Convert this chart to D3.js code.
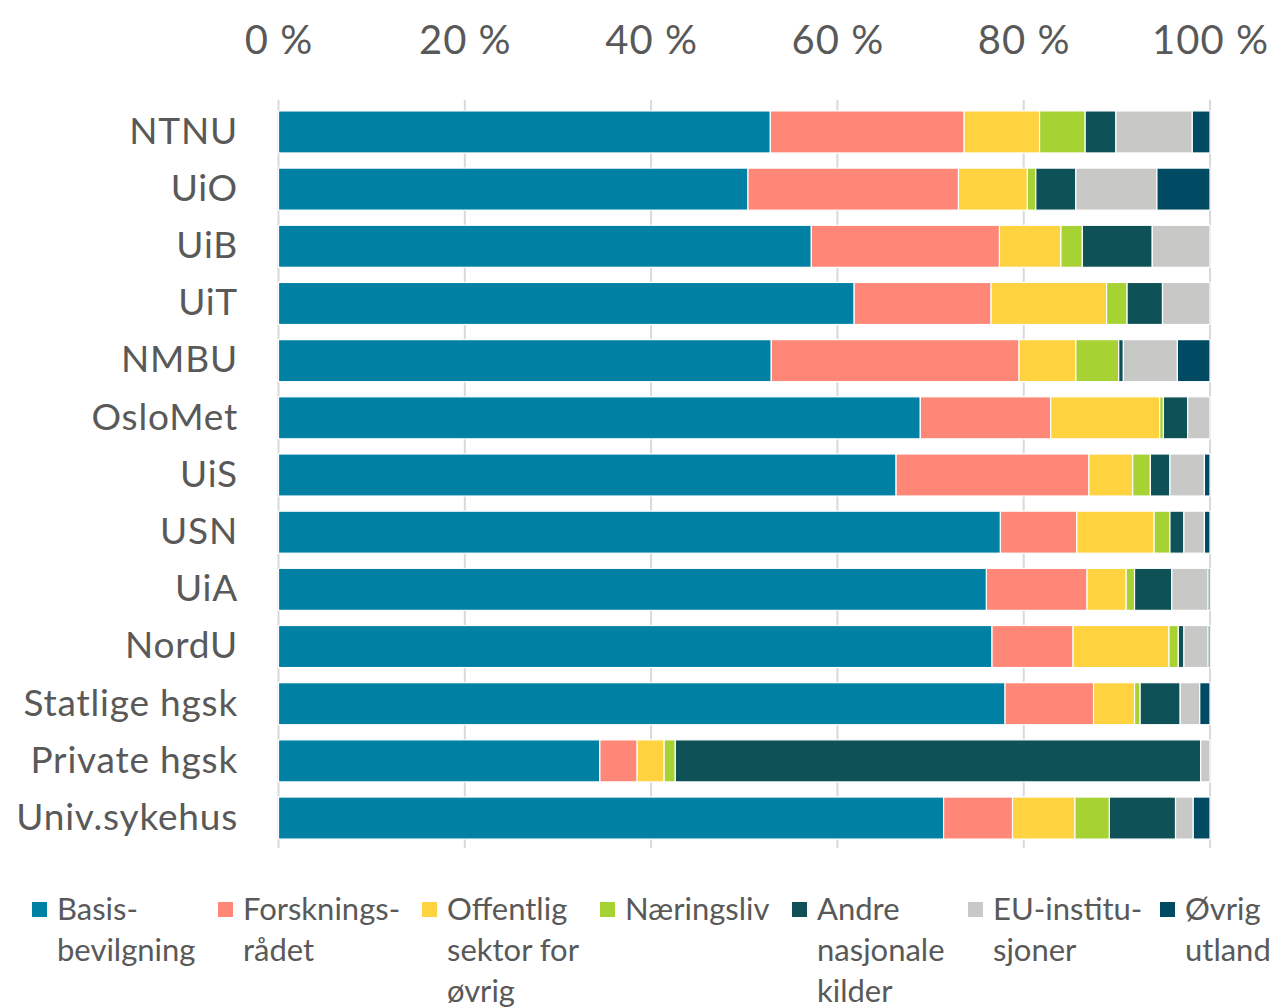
<!DOCTYPE html>
<html><head><meta charset="utf-8">
<script src="https://cdn.jsdelivr.net/npm/d3@7"></script>
<style>body{margin:0;background:#fff}svg{display:block}</style>
</head><body>
<script>
const categories = ["NTNU","UiO","UiB","UiT","NMBU","OsloMet","UiS","USN","UiA","NordU","Statlige hgsk","Private hgsk","Univ.sykehus"];
const seriesNames = ["Basis-bevilgning","Forsknings-rådet","Offentlig sektor for øvrig","Næringsliv","Andre nasjonale kilder","EU-institu-sjoner","Øvrig utland"];
const legendLines = [["Basis-","bevilgning"],["Forsknings-","rådet"],["Offentlig","sektor for","øvrig"],["Næringsliv"],["Andre","nasjonale","kilder"],["EU-institu-","sjoner"],["Øvrig","utland"]];
const basis      = [52.8,50.4,57.2,61.8,52.9,68.9,66.3,77.5,76.0,76.6,78.0,34.5,71.4];
const forskning  = [20.8,22.6,20.2,14.7,26.6,14.0,20.7, 8.2,10.8, 8.7, 9.5, 4.0, 7.4];
const offentlig  = [ 8.1, 7.4, 6.6,12.4, 6.1,11.7, 4.7, 8.3, 4.2,10.3, 4.4, 2.9, 6.7];
const naering    = [ 4.9, 0.9, 2.3, 2.2, 4.6, 0.4, 1.9, 1.7, 0.9, 1.0, 0.6, 1.2, 3.7];
const andre      = [ 3.3, 4.3, 7.5, 3.8, 0.5, 2.6, 2.1, 1.5, 4.0, 0.6, 4.3,56.4, 7.1];
const eu         = [ 8.2, 8.7, 6.2, 5.1, 5.8, 2.4, 3.7, 2.2, 3.9, 2.6, 2.1, 1.0, 1.9];
const ovrig      = [ 1.9, 5.7, 0.0, 0.0, 3.5, 0.0, 0.6, 0.6, 0.2, 0.2, 1.1, 0.0, 1.8];
const tickValues = [0,20,40,60,80,100];
const tickLabels = ["0 %","20 %","40 %","60 %","80 %","100 %"];
const colors = ["#0080A3","#FF8777","#FFD240","#A6D233","#0E5157","#C8C9C6","#004B63"];

const series = [basis,forskning,offentlig,naering,andre,eu,ovrig];
const keys = seriesNames;
const rows = categories.map((c,i)=>{const o={cat:c}; keys.forEach((k,j)=>o[k]=series[j][i]); return o;});
const stack = d3.stack().keys(keys)(rows);

const W=1278,H=1008;
const svg=d3.select("body").append("svg").attr("width",W).attr("height",H);
const font="Lato, 'Open Sans', sans-serif";
const x=d3.scaleLinear().domain([0,100]).range([278.5,1210]);
const y=d3.scaleBand().domain(categories).range([103.5,846.5]).paddingInner(0.265).paddingOuter(0.13);

// gridlines
svg.append("g").selectAll("line").data(tickValues).join("line")
  .attr("x1",d=>x(d)).attr("x2",d=>x(d)).attr("y1",100).attr("y2",848)
  .attr("stroke","#D9D9D9").attr("stroke-width",2);

// bars
svg.append("g").selectAll("g").data(stack).join("g").attr("fill",(d,i)=>colors[i])
  .selectAll("rect").data(d=>d).join("rect")
  .attr("x",d=>x(d[0])).attr("width",d=>Math.max(0,x(d[1])-x(d[0])))
  .attr("y",d=>y(d.data.cat)).attr("height",y.bandwidth())
  .attr("stroke","#fff").attr("stroke-width",1.2);

// top axis
const ax=d3.axisTop(x).tickValues(tickValues).tickFormat((d,i)=>tickLabels[i]).tickSize(0).tickPadding(0);
const gx=svg.append("g").attr("transform","translate(0,54)").call(ax);
gx.select(".domain").remove();
gx.selectAll("text").attr("font-family",font).attr("font-size",40).attr("fill","#595959").attr("dy","0").attr("letter-spacing",1);

// category axis
const ay=d3.axisLeft(y).tickSize(0).tickPadding(0);
const gy=svg.append("g").attr("transform","translate(238,0)").call(ay);
gy.select(".domain").remove();
gy.selectAll("text").attr("font-family",font).attr("font-size",37).attr("fill","#595959").attr("letter-spacing",0.8);

// legend
const legX=[32,218,422,600,792,968,1160];
const lg=svg.append("g").selectAll("g").data(keys).join("g").attr("transform",(d,i)=>`translate(${legX[i]},0)`);
lg.append("rect").attr("x",0).attr("y",902).attr("width",15).attr("height",15).attr("fill",(d,i)=>colors[i]);
lg.each(function(d,i){
  d3.select(this).selectAll("text").data(legendLines[i]).join("text")
    .attr("x",25).attr("y",(t,j)=>920+j*41).text(t=>t)
    .attr("font-family",font).attr("font-size",31).attr("fill","#595959");
});
</script>
</body></html>
